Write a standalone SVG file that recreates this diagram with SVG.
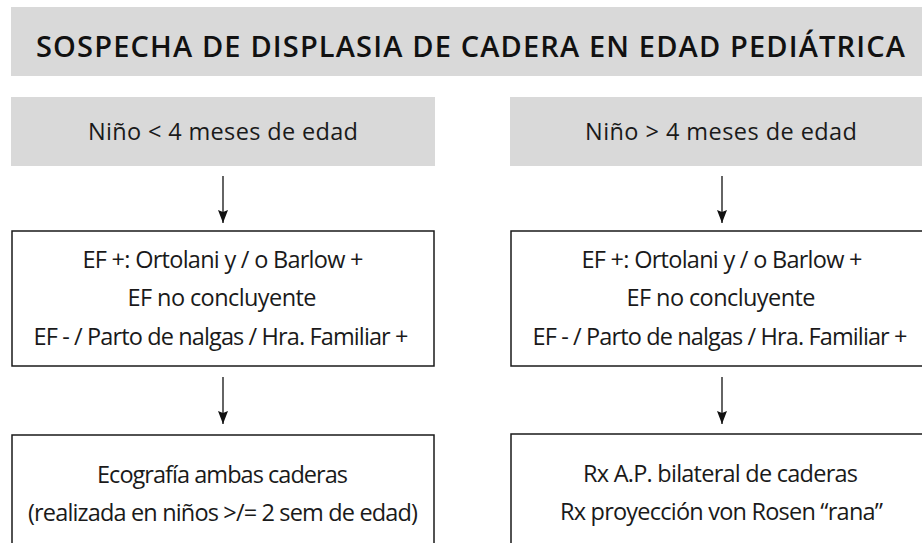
<svg xmlns="http://www.w3.org/2000/svg" width="922" height="543" viewBox="0 0 922 543">
  <defs>
    <marker id="arr" markerUnits="userSpaceOnUse" markerWidth="13" markerHeight="10" refX="13" refY="5" orient="auto" viewBox="0 0 13 10">
      <path d="M0,0 L13,5 L0,10 L2,5 Z" fill="#111"/>
    </marker>
  </defs>
  <style>
    .bar { fill: #d9d9d9; }
    .box { fill: #ffffff; stroke: #1a1a1a; stroke-width: 1.5; }
    .t { font-family: "Open Sans", "Noto Sans", "Liberation Sans", sans-serif; font-size: 23.5px; fill: #1a1a1a; text-anchor: middle; }
    .title { font-family: "Open Sans", "Noto Sans", "Liberation Sans", sans-serif; font-size: 29px; font-weight: 600; fill: #111; text-anchor: middle; }
    .conn { stroke: #111; stroke-width: 1.3; fill: none; marker-end: url(#arr); }
  </style>
  <rect width="922" height="543" fill="#ffffff"/>

  <g id="title">
    <rect class="bar" x="11" y="7" width="923" height="69"/>
    <text class="title" x="470.5" y="57" textLength="869" lengthAdjust="spacing">SOSPECHA DE DISPLASIA DE CADERA EN EDAD PEDIÁTRICA</text>
  </g>

  <g id="age-lt4">
    <rect class="bar" x="11" y="97" width="424" height="69"/>
    <text class="t" x="223" y="140" textLength="270">Niño &lt; 4 meses de edad</text>
  </g>

  <g id="age-gt4">
    <rect class="bar" x="510" y="97" width="424" height="69"/>
    <text class="t" x="721" y="140" textLength="272">Niño &gt; 4 meses de edad</text>
  </g>

  <g id="exam-left">
    <rect class="box" x="12" y="231" width="422" height="135"/>
    <text class="t" x="223" y="268" textLength="281">EF +: Ortolani y / o Barlow +</text>
    <text class="t" x="222" y="306" textLength="189">EF no concluyente</text>
    <text class="t" x="221" y="345" textLength="375">EF - / Parto de nalgas / Hra. Familiar +</text>
  </g>

  <g id="exam-right">
    <rect class="box" x="511" y="231" width="422" height="135"/>
    <text class="t" x="722" y="268" textLength="281">EF +: Ortolani y / o Barlow +</text>
    <text class="t" x="721" y="306" textLength="189">EF no concluyente</text>
    <text class="t" x="720" y="345" textLength="375">EF - / Parto de nalgas / Hra. Familiar +</text>
  </g>

  <g id="eco-left">
    <rect class="box" x="12" y="435" width="422" height="130"/>
    <text class="t" x="222.5" y="483" textLength="251">Ecografía ambas caderas</text>
    <text class="t" x="223" y="521" textLength="390">(realizada en niños &gt;/= 2 sem de edad)</text>
  </g>

  <g id="rx-right">
    <rect class="box" x="511" y="434" width="422" height="130"/>
    <text class="t" x="720.5" y="482" textLength="275">Rx A.P. bilateral de caderas</text>
    <text class="t" x="721.5" y="520" textLength="323">Rx proyección von Rosen “rana”</text>
  </g>

  <g id="connectors">
    <line class="conn" x1="223" y1="176" x2="223" y2="223"/>
    <line class="conn" x1="722" y1="176" x2="722" y2="223"/>
    <line class="conn" x1="223" y1="377" x2="223" y2="424"/>
    <line class="conn" x1="722" y1="377" x2="722" y2="424"/>
  </g>
</svg>
